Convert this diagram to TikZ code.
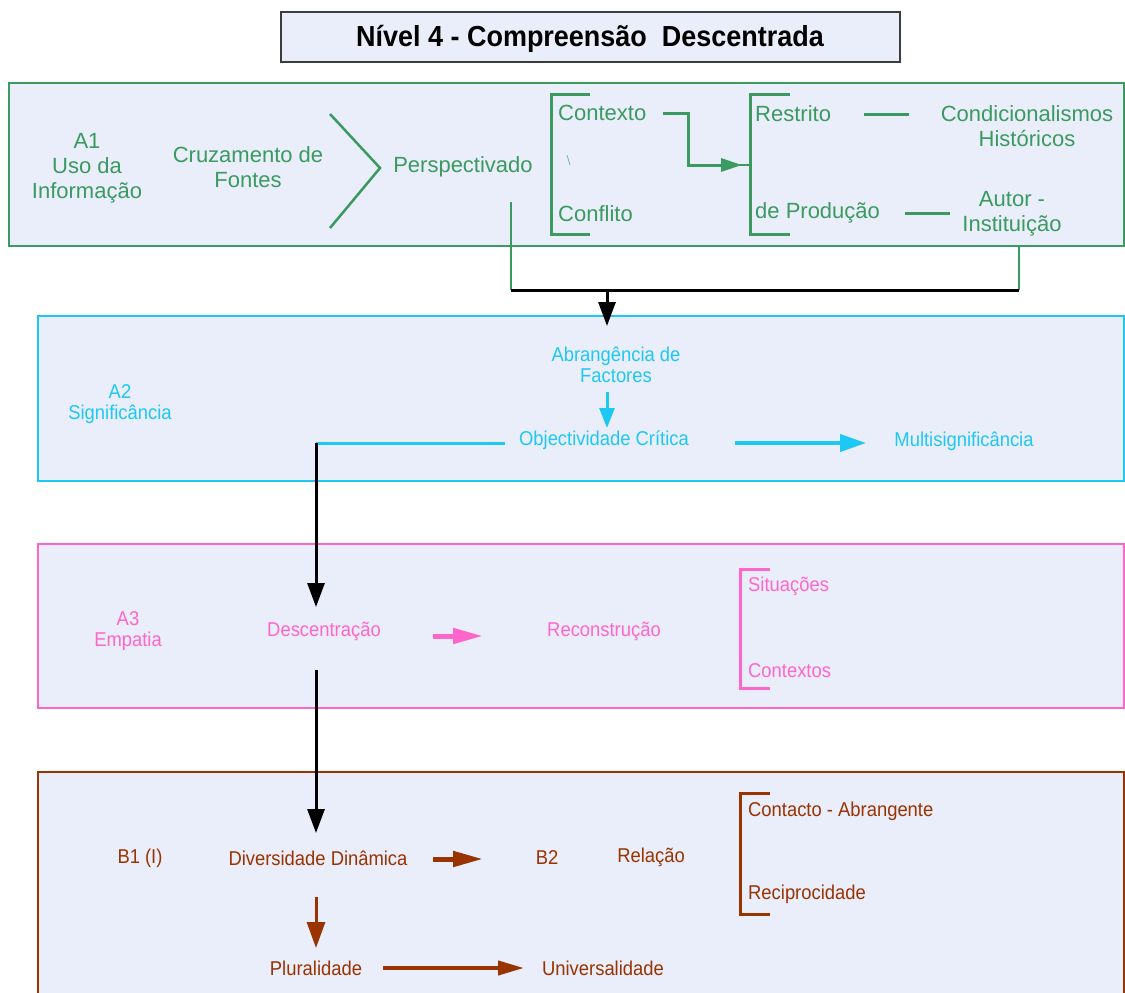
\documentclass[tikz,border=0pt]{standalone}
\usepackage{fontspec}
\setmainfont{Liberation Sans}
\newfontfamily\narrowsans[FakeStretch=0.92]{Liberation Sans}
\newfontfamily\titlesans[FakeStretch=0.93]{Liberation Sans}
\usetikzlibrary{arrows.meta}
\definecolor{panelfill}{HTML}{EAEDFA}
\definecolor{grn}{HTML}{3A9A5F}
\definecolor{cyn}{HTML}{1EC8F5}
\definecolor{pnk}{HTML}{FF66CC}
\definecolor{brn}{HTML}{993300}
\definecolor{frame}{HTML}{3C3C3C}
\tikzset{
  panel/.style={draw,line width=2pt,fill=panelfill},
  txt/.style={inner sep=0pt,align=center},
  bigtxt/.style={txt,font=\fontsize{22}{25}\selectfont,text=grn},
  smalltxt/.style={txt,font=\narrowsans\fontsize{20}{21}\selectfont},
  brk/.style={line width=3pt},
  tipdown/.style={-{Triangle[length=24pt,width=17pt]}},
}
\begin{document}
\begin{tikzpicture}[x=1pt,y=-1pt]
\useasboundingbox (0,0) rectangle (1125,993);
\clip (0,0) rectangle (1125,993);
\fill[white] (0,0) rectangle (1125,993);

% title
\draw[line width=2.5pt,draw=frame,fill=panelfill] (281,12) rectangle (900,62);
\node[txt,font=\titlesans\bfseries\fontsize{29}{30}\selectfont] (title) at (590,39)
  {Nível 4 - Compreensão\ \ Descentrada};

% panels
\draw[panel,draw=grn] (9,83) rectangle (1124,246);
\draw[panel,draw=cyn] (38,316) rectangle (1124,481);
\draw[panel,draw=pnk] (38,544) rectangle (1124,708);
\draw[panel,draw=brn] (38,772) rectangle (1124,1010);

% ---- A1: uso da informacao
\node[bigtxt] (a1) at (87,168) {A1\\Uso da\\Informação};
\node[bigtxt] (cruz) at (248,167) {Cruzamento de\\Fontes};
\draw[grn,line width=2.5pt] (330,114) -- (380,168) -- (330,228);
\node[bigtxt] (persp) at (463,167) {Perspectivado};

\draw[grn,brk] (590,94) -- (551,94) -- (551,234) -- (590,234);
\node[bigtxt,anchor=west] (contexto) at (558,113) {Contexto};
\node[bigtxt,anchor=west] (conflito) at (558,214) {Conflito};
\draw[grn!70,line width=0.8pt] (567,155) -- (570,165);

\draw[grn,brk] (790,94) -- (750,94) -- (750,234) -- (790,234);
\node[bigtxt,anchor=west] (restrito) at (755,114) {Restrito};
\node[bigtxt,anchor=west] (deprod) at (755,213) {de Produção};
\node[bigtxt] (condic) at (1027,126) {Condicionalismos\\Históricos};
\node[bigtxt] (autor) at (1012,214) {Autor -\\Instituição};

\coordinate (b2mid) at (750,165);
\draw[grn,line width=1.2pt] (735,165) -- (b2mid);
\draw[grn,line width=3pt,-{Triangle[length=21pt,width=13pt]}]
  ([xshift=17pt]contexto.east) -| (688,165) -- ([xshift=-8pt]b2mid);
\draw[grn,line width=3pt] ([xshift=33pt]restrito.east) -- ++(45,0);
\draw[grn,line width=3pt] ([xshift=25pt]deprod.east) -- ++(45,0);

% joining lines below A1
\coordinate (pa) at (511,202);
\coordinate (pb) at (511,290);
\coordinate (qa) at (1019,246);
\coordinate (qb) at (1019,290);
\coordinate (mid) at (607,290);
\draw[grn,line width=2.5pt] (pa) -- (pb);
\draw[grn,line width=2.5pt] (qa) -- (qb);
\draw[black,line width=3pt] (pb) -- (qb);

% ---- A2: significancia
\node[smalltxt,text=cyn] (a2) at (120,404) {A2\\Significância};
\node[smalltxt,text=cyn] (abr) at (616,365) {Abrangência de\\Factores};
\node[smalltxt,text=cyn] (obj) at (604,440) {Objectividade Crítica};
\node[smalltxt,text=cyn] (multi) at (964,441) {Multisignificância};
\draw[black,line width=3pt,tipdown] (mid) -- (607,326);
\draw[cyn,line width=3pt,-{Triangle[length=20pt,width=15pt]}] (607,392) -- (607,428);
\coordinate (corner) at (316,443);
\draw[cyn,line width=3pt] ([xshift=-14pt]obj.west |- corner) -- (corner);
\draw[cyn,line width=4pt,-{Triangle[length=26pt,width=17pt]}] (735,443) -- (866,443);

% ---- A3: empatia
\node[smalltxt,text=pnk] (a3) at (128,631) {A3\\Empatia};
\node[smalltxt,text=pnk] (desc) at (324,631) {Descentração};
\node[smalltxt,text=pnk] (recon) at (604,631) {Reconstrução};
\draw[pnk,brk] (770,569) -- (740,569) -- (740,688) -- (770,688);
\node[smalltxt,text=pnk,anchor=west] (situ) at (748,586) {Situações};
\node[smalltxt,text=pnk,anchor=west] (contx) at (748,671) {Contextos};
\draw[black,line width=3pt,tipdown] (corner) -- (316,607);
\draw[pnk,line width=5pt,-{Triangle[length=30pt,width=15pt]}] (433,636) -- (483,636);

% ---- B: relacao
\node[smalltxt,text=brn] (b1) at (140,858) {B1 (I)};
\node[smalltxt,text=brn] (div) at (318,858) {Diversidade Dinâmica};
\node[smalltxt,text=brn] (b2) at (547,858) {B2};
\node[smalltxt,text=brn] (rel) at (651,857) {Relação};
\draw[brn,brk] (770,793) -- (740,793) -- (740,914) -- (770,914);
\node[smalltxt,text=brn,anchor=west] (contab) at (748,811) {Contacto - Abrangente};
\node[smalltxt,text=brn,anchor=west] (recip) at (748,894) {Reciprocidade};
\node[smalltxt,text=brn] (plur) at (316,968) {Pluralidade};
\node[smalltxt,text=brn] (univ) at (603,968) {Universalidade};
\draw[black,line width=3pt,tipdown] (316,670) -- (316,833);
\draw[brn,line width=5pt,-{Triangle[length=30pt,width=15pt]}] (433,859) -- (483,859);
\draw[brn,line width=3pt,-{Triangle[length=26pt,width=18pt]}] (316,897) -- (316,948);
\draw[brn,line width=4pt,-{Triangle[length=26pt,width=14pt]}] (383,968) -- (524,968);
\end{tikzpicture}
\end{document}
